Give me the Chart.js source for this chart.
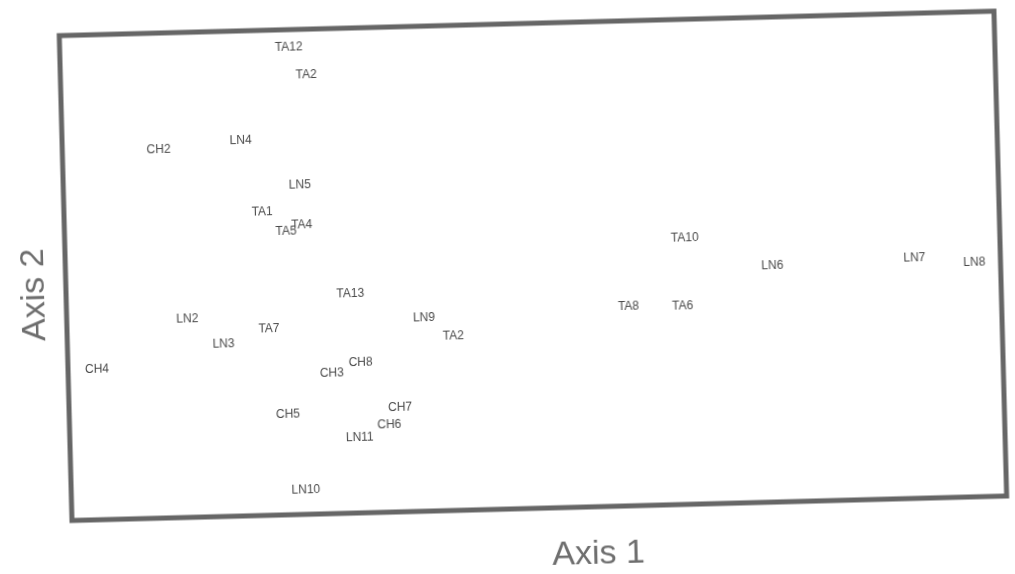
<!DOCTYPE html>
<html>
<head>
<meta charset="utf-8">
<script src="https://cdn.jsdelivr.net/npm/chart.js@4/dist/chart.umd.min.js"></script>
<style>
  html, body { margin: 0; padding: 0; background: #fff; overflow: hidden; }
  #plot { display: block; transform: rotate(-1.5deg); transform-origin: 50% 50%; }
</style>
</head>
<body>
<canvas id="plot" width="1015" height="574"></canvas>
<script>
// Site labels and their ordination scores (0-100 scale)
const sites = ['TA12', 'TA2', 'CH2', 'LN4', 'LN5', 'TA1', 'TA5', 'TA4', 'LN2', 'LN3',
  'TA7', 'TA13', 'LN9', 'TA2', 'CH4', 'CH3', 'CH8', 'CH5', 'CH7', 'CH6',
  'LN11', 'LN10', 'TA10', 'LN6', 'LN7', 'LN8', 'TA8', 'TA6'];
const axis1 = [24.5, 26.3, 10.3, 19.1, 25.3, 21.2, 23.7, 25.4, 12.9, 16.7,
  21.6, 30.4, 38.2, 41.3, 3.1, 28.2, 31.3, 23.4, 35.4, 34.2,
  31.0, 25.1, 66.3, 75.6, 90.8, 97.2, 60.1, 65.9];
const axis2 = [96.4, 90.6, 75.9, 77.3, 67.9, 62.6, 58.5, 59.7, 40.9, 35.5,
  38.4, 45.2, 39.8, 36.0, 30.9, 29.0, 30.9, 20.6, 21.6, 18.0,
  15.6, 5.0, 54.9, 48.7, 49.5, 48.4, 41.0, 40.9];

const xTitle = 'Axis 1';
const yTitle = 'Axis 2';

// Draw the site names at each point instead of markers
const pointLabels = {
  id: 'pointLabels',
  afterDatasetsDraw(chart) {
    const ctx = chart.ctx;
    const meta = chart.getDatasetMeta(0);
    ctx.save();
    ctx.font = '12px "Liberation Sans", Arial, sans-serif';
    ctx.fillStyle = '#4a4a4a';
    ctx.textAlign = 'center';
    ctx.textBaseline = 'middle';
    meta.data.forEach((pt, i) => {
      ctx.fillText(sites[i], pt.x, pt.y);
    });
    ctx.restore();
  }
};

// Thick frame round the plot and the two axis titles
const frameAndTitles = {
  id: 'frameAndTitles',
  afterDraw(chart) {
    const ctx = chart.ctx;
    const a = chart.chartArea;
    ctx.save();
    ctx.strokeStyle = '#666';
    ctx.lineWidth = 5;
    ctx.strokeRect(a.left, a.top, a.right - a.left, a.bottom - a.top);

    ctx.fillStyle = '#6e6e6e';
    ctx.font = '34px "Liberation Sans", Arial, sans-serif';
    ctx.textAlign = 'center';
    ctx.textBaseline = 'middle';
    ctx.fillText(xTitle, (a.left + a.right) / 2 + 58, a.bottom + 48);

    ctx.translate(a.left - 31, (a.top + a.bottom) / 2 + 16);
    ctx.rotate(-Math.PI / 2);
    ctx.fillText(yTitle, 0, 0);
    ctx.restore();
  }
};

new Chart(document.getElementById('plot'), {
  type: 'scatter',
  data: {
    datasets: [{
      data: axis1.map((x, i) => ({ x: x, y: axis2[i] })),
      pointRadius: 0,
      pointHoverRadius: 0
    }]
  },
  options: {
    responsive: false,
    animation: false,
    layout: { padding: { left: 66, top: 24, right: 14, bottom: 65 } },
    plugins: { legend: { display: false }, tooltip: { enabled: false } },
    scales: {
      x: { display: false, min: 0, max: 100 },
      y: { display: false, min: 0, max: 100 }
    }
  },
  plugins: [pointLabels, frameAndTitles]
});
</script>
</body>
</html>
